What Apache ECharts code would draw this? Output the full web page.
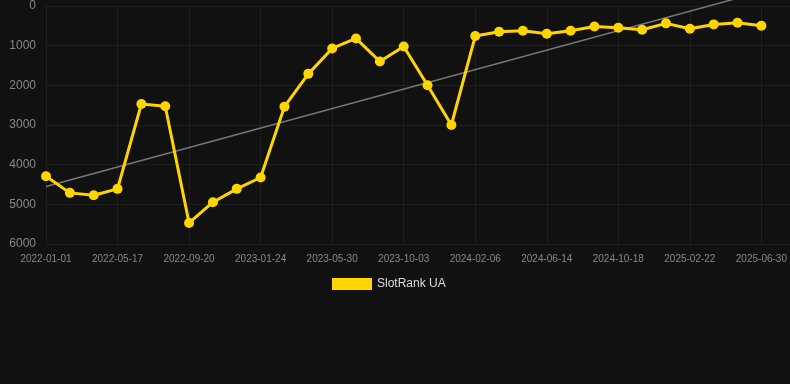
<!DOCTYPE html>
<html>
<head>
<meta charset="utf-8">
<script src="https://cdn.jsdelivr.net/npm/echarts@6/dist/echarts.min.js"></script>
<style>
html,body{margin:0;padding:0;background:#111111;}
#chart{width:790px;height:384px;}
</style>
</head>
<body>
<div id="chart"></div>
<script>
const categories = [
  '2022-01-01','2022-02-15','2022-03-31','2022-05-17','2022-06-28','2022-08-09',
  '2022-09-20','2022-11-01','2022-12-13','2023-01-24','2023-03-07','2023-04-18',
  '2023-05-30','2023-07-11','2023-08-22','2023-10-03','2023-11-14','2023-12-26',
  '2024-02-06','2024-03-19','2024-05-01','2024-06-14','2024-07-26','2024-09-06',
  '2024-10-18','2024-11-29','2025-01-10','2025-02-22','2025-04-05','2025-05-18',
  '2025-06-30'
];
const rankValues = [
  4290, 4711, 4770, 4610, 2470, 2528, 5470, 4947, 4610, 4324,
  2537, 1711, 1070, 818, 1399, 1020, 1997, 3000, 758, 649,
  624, 700, 624, 515, 548, 598, 438, 573, 464, 421, 497
];
const trendIndex = [0, 30];
const trendValues = [4551, -360];
const yTicks = [0, 1000, 2000, 3000, 4000, 5000, 6000];
const seriesName = 'SlotRank UA';

const chart = echarts.init(document.getElementById('chart'), null, {renderer: 'canvas'});
chart.setOption({
  backgroundColor: '#111111',
  animation: false,
  grid: {left: 46, right: 0, top: 6, bottom: 140},
  legend: {
    data: [seriesName],
    top: 273,
    left: 327,
    itemWidth: 40,
    itemHeight: 12,
    icon: 'rect',
    textStyle: {color: '#dddddd', fontSize: 12, fontFamily: 'Liberation Sans, Arial, sans-serif'}
  },
  xAxis: {
    type: 'value',
    min: 0,
    max: 31.2,
    interval: 3,
    axisLine: {show: false},
    axisTick: {show: false},
    splitLine: {show: true, lineStyle: {color: '#1e1e1e', width: 1}},
    axisLabel: {
      color: '#888888',
      fontSize: 10,
      margin: 10,
      fontFamily: 'Liberation Sans, Arial, sans-serif',
      showMaxLabel: false,
      formatter: function (v) {
        if (Number.isInteger(v) && v % 3 === 0 && categories[v]) return categories[v];
        return '';
      }
    }
  },
  yAxis: {
    type: 'value',
    inverse: true,
    min: yTicks[0],
    max: yTicks[yTicks.length - 1],
    interval: 1000,
    axisLine: {show: false},
    axisTick: {show: false},
    splitLine: {show: true, lineStyle: {color: '#1e1e1e', width: 1}},
    axisLabel: {
      color: '#888888', fontSize: 12, margin: 10,
      fontFamily: 'Liberation Sans, Arial, sans-serif',
      formatter: function (v) { return String(v); }
    }
  },
  series: [
    {
      name: seriesName,
      type: 'line',
      data: rankValues.map((v, i) => [i, v]),
      symbol: 'circle',
      symbolSize: 10,
      itemStyle: {color: '#FFD500'},
      lineStyle: {color: '#FFD500', width: 3},
      z: 3
    },
    {
      name: 'trend',
      type: 'line',
      data: trendIndex.map((x, i) => [x, trendValues[i]]),
      symbol: 'none',
      clip: false,
      silent: true,
      lineStyle: {color: '#777777', width: 1.5},
      itemStyle: {color: '#777777'},
      z: 2
    }
  ]
});
</script>
</body>
</html>
